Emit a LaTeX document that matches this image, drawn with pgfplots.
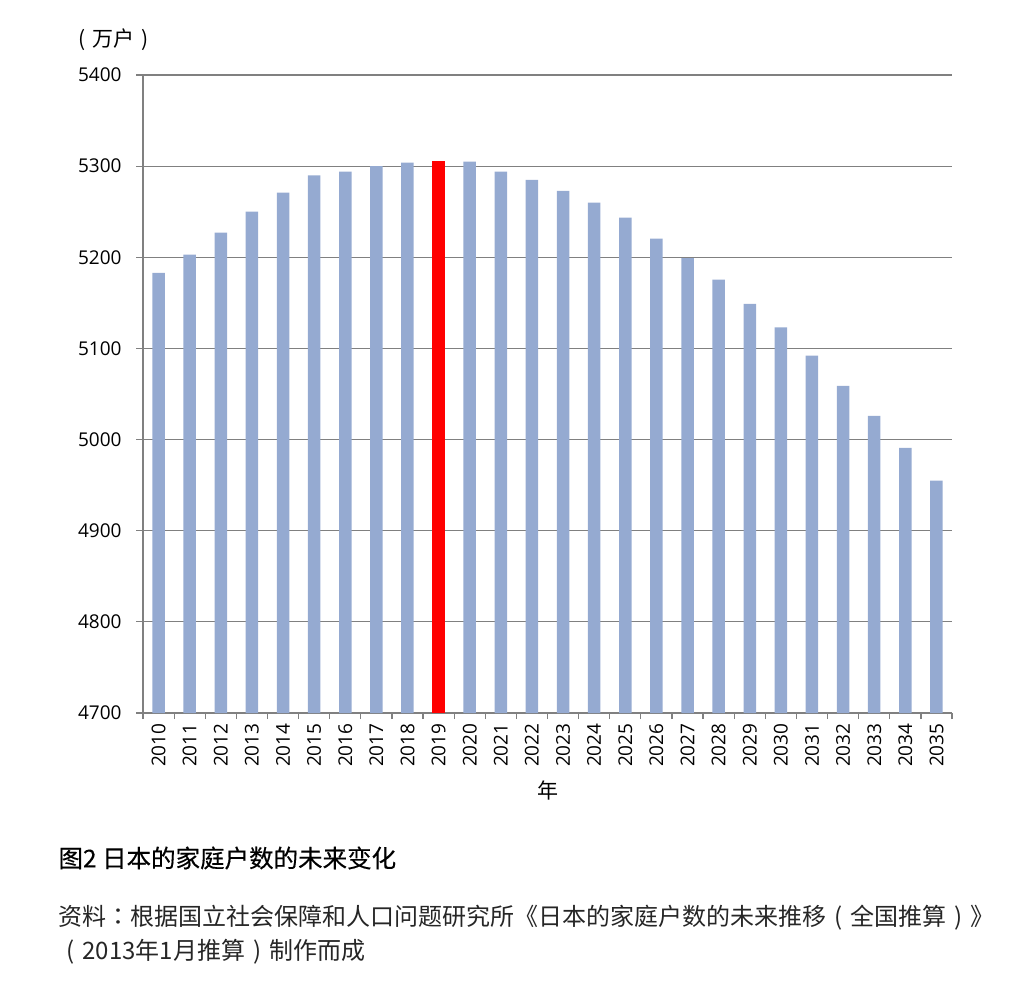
\documentclass[border=0pt]{standalone}
\usepackage{pgfplots}
\pgfplotsset{compat=1.18}
\usepackage{fontspec}
\setmainfont{Open Sans}
\newfontfamily\cjk{Noto Sans CJK SC}
\newfontfamily\cjktc{Noto Sans CJK TC}
\newfontfamily\cjkb[FakeBold=0.4]{Noto Sans CJK SC}
\newcommand\lp{\makebox[1em][c]{(}}
\newcommand\rp{\makebox[1em][c]{)}}
\definecolor{barblue}{RGB}{149,170,209}
\definecolor{gridgray}{RGB}{128,128,128}
\begin{document}
\begin{tikzpicture}[x=1bp,y=1bp]
\useasboundingbox (0,0) rectangle (1026,-996);
\begin{axis}[
  at={(143bp,-713bp)}, anchor=south west,
  scale only axis, width=809bp, height=638bp,
  xmin=-0.5, xmax=25.5, ymin=4700, ymax=5400,
  ytick={4700,4800,...,5400},
  xtick={0,...,25},
  xticklabels={2010,2011,2012,2013,2014,2015,2016,2017,2018,2019,2020,2021,2022,2023,2024,2025,2026,2027,2028,2029,2030,2031,2032,2033,2034,2035},
  minor xtick={-0.5,0.5,...,25.5},
  major x tick style={draw=none},
  x tick style={gridgray, line width=1.2bp},
  y tick style={gridgray, line width=1.2bp},
  minor tick length=6bp,
  major tick length=7bp,
  tick align=outside,
  tick pos=left,
  ymajorgrids, grid style={gridgray, line width=1.2bp},
  axis x line*=bottom, axis y line*=left,
  axis line style={gridgray, line width=1.2bp, -},
  separate axis lines,
  /pgf/number format/assume math mode=true,
  /pgf/number format/set thousands separator={},
  ticklabel style={font=\fontsize{19bp}{22bp}\selectfont, text=black},
  xticklabel style={rotate=90, anchor=east},
  yticklabel style={anchor=east, xshift=-11bp},
  ybar, bar width=12.5bp, bar shift=0pt,
  clip=false,
]
\addplot[fill=barblue, draw=none] coordinates {
(0,5183) (1,5203) (2,5227) (3,5250) (4,5271) (5,5290) (6,5294) (7,5300) (8,5304)
(10,5305) (11,5294) (12,5285) (13,5273) (14,5260) (15,5243.5) (16,5220.5) (17,5199)
(18,5175.5) (19,5149) (20,5123) (21,5092) (22,5059) (23,5026) (24,4991) (25,4955)};
\addplot[fill=red, draw=none] coordinates {(9,5306)};
\end{axis}
\node[anchor=west, font=\cjk\fontsize{21bp}{24bp}\selectfont] at (68,-40) {\lp 万户\rp};
\node[font=\cjk\fontsize{21bp}{24bp}\selectfont] at (548,-790) {年};
\node[anchor=west, font=\cjkb\fontsize{24.5bp}{28bp}\selectfont] at (55,-858) {图2 日本的家庭户数的未来变化};
\node[anchor=west, font=\cjk\fontsize{24bp}{28bp}\selectfont, text=black!85] at (55,-918) {资料{\cjktc ：}根据国立社会保障和人口问题研究所《日本的家庭户数的未来推移\lp 全国推算\rp》};
\node[anchor=west, font=\cjk\fontsize{24bp}{28bp}\selectfont, text=black!85] at (55,-952) {\lp 2013年1月推算\rp 制作而成};
\end{tikzpicture}
\end{document}
